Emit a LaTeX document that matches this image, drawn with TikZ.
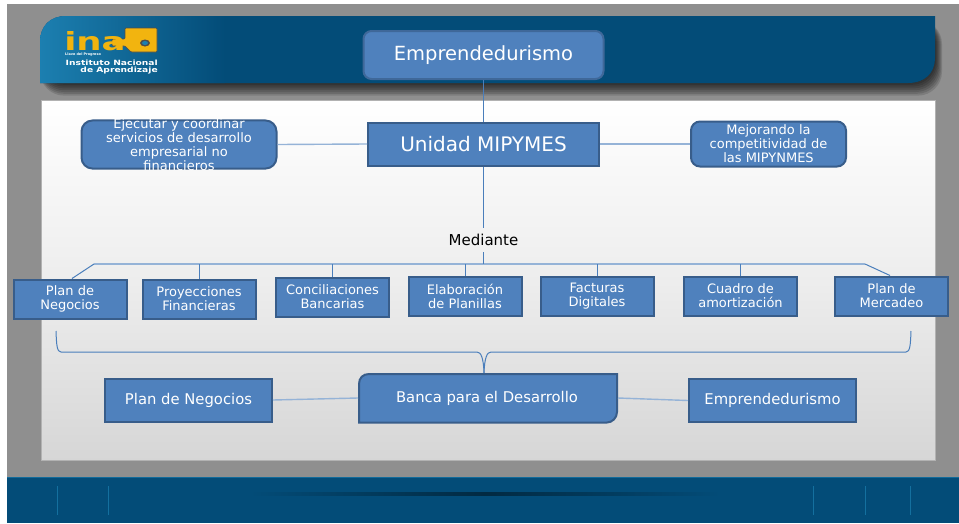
\documentclass[tikz,border=0pt]{standalone}
\usepackage{fontspec}
\setmainfont{DejaVu Sans}
\usetikzlibrary{calc,positioning}
\definecolor{cBand}{HTML}{034C78}
\definecolor{cBandLight}{HTML}{1C7FB0}
\definecolor{cBox}{HTML}{4F81BD}
\definecolor{cBoxEdge}{HTML}{385D8A}
\definecolor{cLine}{HTML}{4A7EBB}
\definecolor{cLineLight}{HTML}{95B3D7}
\definecolor{cGrey}{HTML}{8F8F8F}
\definecolor{cKey}{HTML}{F2B40F}
\tikzset{
    boxNode/.style={draw=cBoxEdge,line width=2pt,fill=cBox,text=white,align=center,inner sep=0pt,font=\fontsize{13}{14}\selectfont},
    roundNode/.style={boxNode,rounded corners=8pt},
    smallNode/.style={boxNode,minimum width=113pt,minimum height=39pt},
    bigNode/.style={boxNode,minimum width=167pt,minimum height=43pt,font=\fontsize{14.8}{17}\selectfont},
    linkLine/.style={draw=cLineLight,line width=1.4pt},
    stemLine/.style={draw=cLine,line width=1pt},
}
\begin{document}
\begin{tikzpicture}[x=1pt,y=-1pt]
\useasboundingbox (0,0) rectangle (959,523);

% background
\fill[white] (0,0) rectangle (959,523);
\fill[cGrey] (7,4) rectangle (959,477);
\fill[cBand] (7,477) rectangle (959,523);
\fill[cBandLight!60!cBand] (7,476.5) rectangle (959,478);
\shade[left color=cBand,right color=cBand,middle color=black!45!cBand] (250,492.5) rectangle (720,495);
\foreach \x in {57,108,813,865,910}
{
    \draw[cBandLight!70!cBand,line width=0.7pt] (\x,486) -- (\x,515);
}

% header
\foreach \t in {0,1,...,7}
{
    \fill[black,opacity=0.13,rounded corners=24pt] (40,{20}) rectangle ({935+\t},{83+\t*1.8});
}
\fill[cBand] (66,16) -- (935,16) -- (935,58)
    .. controls (935,73) and (925,83) .. (908,83) -- (40,83) -- (40,42)
    .. controls (40,26) and (50,16) .. (66,16) -- cycle;
\shade[left color=cBandLight,right color=cBand] (40,83) -- (40,42)
    .. controls (40,26) and (50,16) .. (66,16) -- (225,16) -- (225,83) -- cycle;

% logo
\draw[fill=cKey,draw=black!70,line width=0.6pt,rounded corners=1pt] (112,39) -- (125,39) -- (125,28) -- (157,28) -- (157,52) -- (131,52) -- (125,46) -- (112,46) -- cycle;
\fill[black!70] (145,43) ellipse (5pt and 3.5pt);
\fill[cBandLight] (145,43) ellipse (3pt and 2pt);
\node[text=cKey,font=\bfseries\fontsize{25}{25}\selectfont,inner sep=0pt,text height=14pt,text depth=0pt,anchor=west,xscale=1.42,transform shape] (nLogo) at (64,43) {ina};
\node[text=white,font=\bfseries\fontsize{3.4}{4}\selectfont,inner sep=0pt,anchor=west] (nMotto) at (65,55) {Llave del Progreso};
\node[text=white,font=\bfseries\fontsize{7.2}{7.2}\selectfont,align=right,inner sep=0pt,anchor=east,xscale=1.27,transform shape] (nInst) at (158,67) {Instituto Nacional\\de Aprendizaje};

% panel
\shade[top color=white,bottom color=black!16,middle color=black!7] (41,100) rectangle (935,460);
\draw[black!30,line width=0.6pt] (41,100) rectangle (935,460);

% nodes
\node[roundNode,minimum width=240pt,minimum height=48pt,font=\fontsize{19.5}{22}\selectfont,draw=cBoxEdge!70!cBox] (nEmprendeTop) at (483.5,55) {Emprendedurismo};
\node[boxNode,minimum width=231pt,minimum height=43pt,font=\fontsize{20}{22}\selectfont] (nUnidad) at (483.5,144) {Unidad MIPYMES};
\node[roundNode,minimum width=195pt,inner ysep=-2pt,rounded corners=11pt] (nEjecutar) at (179,144.5) {Ejecutar y coordinar\\servicios de desarrollo\\empresarial no\\financieros};
\node[roundNode,minimum width=155pt,minimum height=45pt,rounded corners=9pt] (nMejora) at (768.5,144) {Mejorando la\\competitividad de\\las MIPYNMES};
\node[font=\fontsize{15}{17}\selectfont,inner sep=0pt,minimum height=24pt] (nMediante) at (483.5,240) {Mediante};

\node[smallNode] (nPlanNeg) at (70,299) {Plan de\\Negocios};
\node[smallNode] (nProy) at (199,299) {Proyecciones\\Financieras};
\node[smallNode] (nConc) at (332.5,297) {Conciliaciones\\Bancarias};
\node[smallNode] (nElab) at (465,296) {Elaboración\\de Planillas};
\node[smallNode] (nFact) at (597,296) {Facturas\\Digitales};
\node[smallNode] (nCuadro) at (740.5,296) {Cuadro de\\amortización};
\node[smallNode] (nPlanMer) at (891.5,296) {Plan de\\Mercadeo};

\node[bigNode] (nPlanBig) at (188.5,400) {Plan de Negocios};
\node[bigNode] (nEmprendeBot) at (772.5,400.5) {Emprendedurismo};
\draw[draw=cBoxEdge,line width=2pt,fill=cBox] (369,374) -- (617,374) -- (617,412)
    .. controls (617,418) and (612,422.5) .. (607,422.5) -- (359,422.5) -- (359,384)
    .. controls (359,378) and (363,374) .. (369,374) -- cycle;
\node[text=white,font=\fontsize{14.8}{17}\selectfont,inner sep=0pt] (nBanca) at (487,398.5) {Banca para el Desarrollo};
\coordinate (cBancaL) at (358,398);
\coordinate (cBancaR) at (618,398);
\coordinate (cBancaT) at (484,373);

% connectors
\draw[stemLine] (nEmprendeTop.south) -- (nUnidad.north);
\draw[linkLine] (nEjecutar.east) -- (nUnidad.west);
\draw[linkLine] (nUnidad.east) -- (nMejora.west);
\draw[stemLine] (nUnidad.south) -- (nMediante.north);
\coordinate (cBusL) at (94,264);
\coordinate (cBusR) at (865,264);
\coordinate (cBusM) at (483.5,264);
\draw[linkLine] (cBusL) -- (cBusR);
\draw[stemLine] (nMediante.south) -- (cBusM);
\draw[stemLine] (cBusL) -- (72,278.5);
\draw[stemLine] (cBusR) -- (890,275.5);
\foreach \n in {nProy,nConc,nElab,nFact,nCuadro}
{
    \draw[stemLine] (\n.north |- cBusM) -- (\n.north);
}

% brace
\draw[stemLine] (56,331) .. controls (56.5,345) and (57,352) .. (61,352) -- (477,352)
    .. controls (481,352) and (483.5,358) .. (cBancaT);
\draw[stemLine] (911,331) .. controls (910.5,345) and (910,352) .. (906,352) -- (491,352)
    .. controls (487,352) and (484.5,358) .. (cBancaT);

\draw[linkLine] (nPlanBig.east) -- (cBancaL);
\draw[linkLine] (cBancaR) -- (nEmprendeBot.west);
\end{tikzpicture}
\end{document}
